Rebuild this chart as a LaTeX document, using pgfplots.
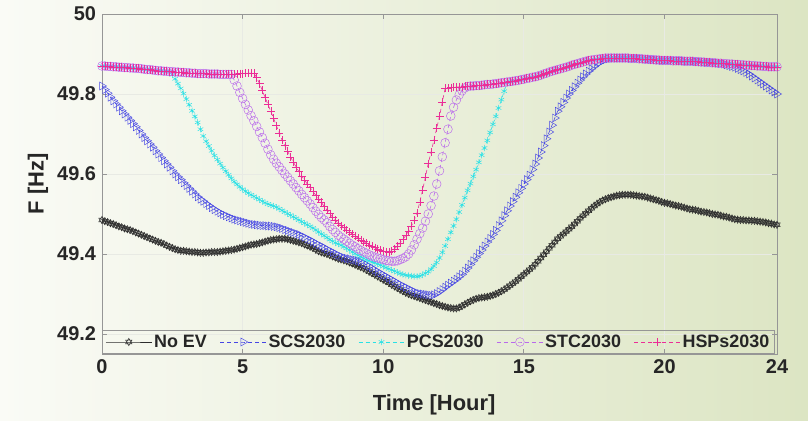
\documentclass[border=0pt]{standalone}
\usepackage{pgfplots}
\usepackage{pgfplotstable}
\pgfplotsset{compat=1.18}
\usepackage{fontspec}
\setmainfont{Liberation Sans}
\definecolor{noev}{RGB}{45,45,45}
\definecolor{scs}{RGB}{70,70,228}
\definecolor{pcs}{RGB}{40,225,230}
\definecolor{stc}{RGB}{185,105,235}
\definecolor{hsp}{RGB}{235,45,150}
\definecolor{txt}{RGB}{38,38,38}
\definecolor{bgL}{RGB}{250,251,246}
\definecolor{bgR}{RGB}{220,229,195}
\definecolor{axisgray}{RGB}{150,150,150}
\definecolor{gridc}{RGB}{232,234,228}
\pgfdeclareplotmark{hexagram}{%
 \pgfpathmoveto{\pgfqpoint{0pt}{\pgfplotmarksize}}%
 \pgfpathlineto{\pgfqpoint{-0.866\pgfplotmarksize}{-0.5\pgfplotmarksize}}%
 \pgfpathlineto{\pgfqpoint{0.866\pgfplotmarksize}{-0.5\pgfplotmarksize}}%
 \pgfpathclose
 \pgfpathmoveto{\pgfqpoint{0pt}{-\pgfplotmarksize}}%
 \pgfpathlineto{\pgfqpoint{-0.866\pgfplotmarksize}{0.5\pgfplotmarksize}}%
 \pgfpathlineto{\pgfqpoint{0.866\pgfplotmarksize}{0.5\pgfplotmarksize}}%
 \pgfpathclose
 \pgfusepathqstroke}
% frequency every 0.1 h, from 0 h to 24 h
\pgfplotstableread[header=false,row sep=\\]{
49.485\\49.482\\49.480\\49.477\\49.475\\49.472\\49.469\\49.467\\49.464\\49.462\\
49.460\\49.457\\49.454\\49.451\\49.448\\49.445\\49.442\\49.439\\49.436\\49.433\\
49.430\\49.428\\49.425\\49.421\\49.418\\49.415\\49.412\\49.410\\49.408\\49.408\\
49.407\\49.406\\49.405\\49.405\\49.404\\49.403\\49.403\\49.404\\49.404\\49.405\\
49.405\\49.405\\49.406\\49.407\\49.408\\49.409\\49.410\\49.411\\49.413\\49.415\\
49.417\\49.419\\49.421\\49.423\\49.424\\49.425\\49.427\\49.429\\49.431\\49.433\\
49.435\\49.436\\49.437\\49.438\\49.438\\49.438\\49.437\\49.435\\49.433\\49.431\\
49.429\\49.427\\49.424\\49.421\\49.418\\49.415\\49.411\\49.407\\49.404\\49.402\\
49.400\\49.397\\49.394\\49.391\\49.388\\49.386\\49.384\\49.382\\49.379\\49.376\\
49.373\\49.370\\49.367\\49.364\\49.360\\49.356\\49.352\\49.348\\49.344\\49.340\\
49.336\\49.332\\49.328\\49.323\\49.319\\49.315\\49.311\\49.307\\49.303\\49.300\\
49.297\\49.295\\49.292\\49.290\\49.287\\49.285\\49.282\\49.280\\49.277\\49.275\\
49.272\\49.270\\49.268\\49.266\\49.265\\49.264\\49.264\\49.266\\49.270\\49.274\\
49.278\\49.282\\49.285\\49.288\\49.290\\49.291\\49.292\\49.293\\49.295\\49.297\\
49.300\\49.303\\49.307\\49.311\\49.316\\49.321\\49.326\\49.331\\49.337\\49.343\\
49.349\\49.355\\49.361\\49.367\\49.374\\49.382\\49.390\\49.398\\49.406\\49.414\\
49.422\\49.430\\49.438\\49.444\\49.450\\49.456\\49.462\\49.468\\49.475\\49.482\\
49.489\\49.496\\49.502\\49.508\\49.514\\49.520\\49.525\\49.530\\49.534\\49.537\\
49.540\\49.542\\49.544\\49.546\\49.547\\49.548\\49.548\\49.548\\49.548\\49.547\\
49.546\\49.545\\49.544\\49.543\\49.541\\49.539\\49.537\\49.535\\49.533\\49.530\\
49.528\\49.527\\49.525\\49.523\\49.521\\49.520\\49.518\\49.516\\49.514\\49.512\\
49.511\\49.510\\49.508\\49.506\\49.505\\49.504\\49.502\\49.500\\49.499\\49.498\\
49.496\\49.494\\49.493\\49.491\\49.489\\49.487\\49.486\\49.485\\49.485\\49.484\\
49.484\\49.483\\49.483\\49.482\\49.481\\49.480\\49.479\\49.477\\49.476\\49.474\\
49.473\\
}\noev
\pgfplotstableread[header=false,row sep=\\]{
49.820\\49.811\\49.802\\49.792\\49.783\\49.775\\49.767\\49.758\\49.750\\49.742\\
49.734\\49.726\\49.718\\49.709\\49.700\\49.691\\49.683\\49.675\\49.667\\49.658\\
49.650\\49.641\\49.633\\49.625\\49.617\\49.608\\49.600\\49.593\\49.586\\49.578\\
49.571\\49.564\\49.557\\49.550\\49.543\\49.537\\49.532\\49.526\\49.521\\49.516\\
49.511\\49.507\\49.503\\49.499\\49.496\\49.493\\49.490\\49.487\\49.485\\49.483\\
49.481\\49.479\\49.477\\49.475\\49.474\\49.473\\49.472\\49.471\\49.471\\49.470\\
49.470\\49.469\\49.468\\49.466\\49.464\\49.461\\49.459\\49.456\\49.454\\49.451\\
49.449\\49.445\\49.442\\49.438\\49.435\\49.431\\49.427\\49.423\\49.420\\49.416\\
49.412\\49.408\\49.405\\49.401\\49.397\\49.394\\49.391\\49.389\\49.388\\49.386\\
49.385\\49.383\\49.381\\49.377\\49.373\\49.369\\49.365\\49.360\\49.356\\49.352\\
49.348\\49.344\\49.340\\49.336\\49.332\\49.328\\49.324\\49.320\\49.317\\49.313\\
49.310\\49.306\\49.303\\49.301\\49.300\\49.299\\49.298\\49.297\\49.298\\49.301\\
49.306\\49.311\\49.317\\49.322\\49.327\\49.332\\49.337\\49.343\\49.349\\49.357\\
49.365\\49.374\\49.383\\49.392\\49.401\\49.410\\49.420\\49.430\\49.439\\49.449\\
49.459\\49.471\\49.483\\49.496\\49.508\\49.520\\49.531\\49.542\\49.553\\49.564\\
49.575\\49.586\\49.597\\49.611\\49.625\\49.640\\49.655\\49.671\\49.688\\49.705\\
49.722\\49.740\\49.757\\49.768\\49.779\\49.790\\49.800\\49.809\\49.818\\49.827\\
49.835\\49.843\\49.850\\49.857\\49.863\\49.869\\49.875\\49.879\\49.883\\49.886\\
49.888\\49.889\\49.890\\49.890\\49.890\\49.890\\49.890\\49.890\\49.889\\49.889\\
49.889\\49.888\\49.888\\49.887\\49.887\\49.886\\49.886\\49.885\\49.885\\49.884\\
49.884\\49.884\\49.884\\49.883\\49.883\\49.883\\49.883\\49.882\\49.882\\49.882\\
49.882\\49.881\\49.881\\49.880\\49.880\\49.879\\49.879\\49.878\\49.878\\49.877\\
49.876\\49.875\\49.873\\49.871\\49.869\\49.867\\49.864\\49.861\\49.858\\49.854\\
49.850\\49.845\\49.840\\49.835\\49.830\\49.825\\49.820\\49.815\\49.810\\49.805\\
49.800\\
}\scs
\pgfplotstableread[header=false,row sep=\\]{
49.870\\49.870\\49.869\\49.869\\49.868\\49.868\\49.867\\49.867\\49.866\\49.866\\
49.865\\49.865\\49.864\\49.864\\49.863\\49.862\\49.861\\49.861\\49.860\\49.859\\
49.858\\49.858\\49.857\\49.857\\49.856\\49.848\\49.838\\49.826\\49.814\\49.801\\
49.787\\49.773\\49.758\\49.744\\49.729\\49.712\\49.695\\49.682\\49.670\\49.658\\
49.646\\49.636\\49.626\\49.616\\49.607\\49.598\\49.589\\49.581\\49.574\\49.568\\
49.562\\49.557\\49.552\\49.548\\49.544\\49.540\\49.536\\49.532\\49.528\\49.525\\
49.522\\49.520\\49.517\\49.513\\49.509\\49.505\\49.501\\49.497\\49.493\\49.489\\
49.485\\49.481\\49.477\\49.473\\49.469\\49.465\\49.460\\49.455\\49.450\\49.446\\
49.441\\49.436\\49.432\\49.428\\49.425\\49.422\\49.418\\49.414\\49.410\\49.405\\
49.401\\49.397\\49.393\\49.389\\49.386\\49.383\\49.380\\49.378\\49.375\\49.372\\
49.369\\49.366\\49.363\\49.360\\49.357\\49.354\\49.351\\49.349\\49.347\\49.346\\
49.345\\49.344\\49.344\\49.345\\49.348\\49.352\\49.356\\49.362\\49.370\\49.379\\
49.390\\49.404\\49.420\\49.437\\49.454\\49.470\\49.487\\49.505\\49.523\\49.541\\
49.559\\49.576\\49.594\\49.611\\49.629\\49.647\\49.665\\49.684\\49.704\\49.724\\
49.744\\49.765\\49.786\\49.807\\49.828\\49.831\\49.832\\49.833\\49.834\\49.836\\
49.837\\49.839\\49.840\\49.842\\49.843\\49.845\\49.847\\49.850\\49.852\\49.855\\
49.857\\49.859\\49.861\\49.863\\49.865\\49.867\\49.869\\49.872\\49.874\\49.876\\
49.878\\49.880\\49.882\\49.884\\49.885\\49.886\\49.887\\49.888\\49.889\\49.890\\
49.890\\49.890\\49.890\\49.890\\49.890\\49.890\\49.890\\49.890\\49.889\\49.889\\
49.889\\49.888\\49.888\\49.887\\49.887\\49.886\\49.886\\49.885\\49.885\\49.884\\
49.884\\49.884\\49.884\\49.883\\49.883\\49.883\\49.883\\49.882\\49.882\\49.882\\
49.882\\49.881\\49.881\\49.880\\49.880\\49.879\\49.879\\49.878\\49.878\\49.877\\
49.877\\49.876\\49.876\\49.875\\49.875\\49.874\\49.874\\49.873\\49.873\\49.872\\
49.872\\49.871\\49.871\\49.870\\49.870\\49.869\\49.869\\49.868\\49.868\\49.868\\
49.868\\
}\pcs
\pgfplotstableread[header=false,row sep=\\]{
49.870\\49.870\\49.869\\49.869\\49.868\\49.868\\49.867\\49.867\\49.866\\49.866\\
49.865\\49.865\\49.864\\49.864\\49.863\\49.862\\49.861\\49.861\\49.860\\49.859\\
49.858\\49.858\\49.857\\49.857\\49.856\\49.856\\49.855\\49.855\\49.854\\49.854\\
49.853\\49.853\\49.852\\49.852\\49.851\\49.851\\49.851\\49.851\\49.850\\49.850\\
49.850\\49.850\\49.849\\49.849\\49.849\\49.849\\49.849\\49.835\\49.820\\49.804\\
49.789\\49.774\\49.760\\49.746\\49.733\\49.719\\49.705\\49.691\\49.677\\49.662\\
49.648\\49.637\\49.627\\49.618\\49.609\\49.600\\49.592\\49.583\\49.575\\49.566\\
49.558\\49.549\\49.541\\49.533\\49.525\\49.516\\49.507\\49.499\\49.491\\49.485\\
49.478\\49.469\\49.461\\49.454\\49.447\\49.442\\49.437\\49.432\\49.427\\49.422\\
49.418\\49.413\\49.409\\49.405\\49.402\\49.398\\49.395\\49.392\\49.390\\49.388\\
49.386\\49.384\\49.383\\49.382\\49.382\\49.383\\49.386\\49.389\\49.393\\49.400\\
49.410\\49.423\\49.437\\49.451\\49.465\\49.482\\49.500\\49.521\\49.545\\49.575\\
49.608\\49.643\\49.678\\49.712\\49.745\\49.767\\49.785\\49.798\\49.808\\49.815\\
49.819\\49.820\\49.820\\49.821\\49.821\\49.822\\49.823\\49.824\\49.824\\49.825\\
49.826\\49.827\\49.828\\49.829\\49.830\\49.831\\49.832\\49.833\\49.834\\49.836\\
49.837\\49.839\\49.840\\49.842\\49.843\\49.845\\49.847\\49.850\\49.852\\49.855\\
49.857\\49.859\\49.861\\49.863\\49.865\\49.867\\49.869\\49.872\\49.874\\49.876\\
49.878\\49.880\\49.882\\49.884\\49.885\\49.886\\49.887\\49.888\\49.889\\49.890\\
49.890\\49.890\\49.890\\49.890\\49.890\\49.890\\49.890\\49.890\\49.889\\49.889\\
49.889\\49.888\\49.888\\49.887\\49.887\\49.886\\49.886\\49.885\\49.885\\49.884\\
49.884\\49.884\\49.884\\49.883\\49.883\\49.883\\49.883\\49.882\\49.882\\49.882\\
49.882\\49.881\\49.881\\49.880\\49.880\\49.879\\49.879\\49.878\\49.878\\49.877\\
49.877\\49.876\\49.876\\49.875\\49.875\\49.874\\49.874\\49.873\\49.873\\49.872\\
49.872\\49.871\\49.871\\49.870\\49.870\\49.869\\49.869\\49.868\\49.868\\49.868\\
49.868\\
}\stc
\pgfplotstableread[header=false,row sep=\\]{
49.870\\49.870\\49.869\\49.869\\49.868\\49.868\\49.867\\49.867\\49.866\\49.866\\
49.865\\49.865\\49.864\\49.864\\49.863\\49.862\\49.861\\49.861\\49.860\\49.859\\
49.858\\49.858\\49.857\\49.857\\49.856\\49.856\\49.855\\49.855\\49.854\\49.854\\
49.853\\49.853\\49.852\\49.852\\49.851\\49.851\\49.851\\49.851\\49.850\\49.850\\
49.850\\49.850\\49.849\\49.849\\49.849\\49.849\\49.849\\49.850\\49.850\\49.851\\
49.851\\49.852\\49.852\\49.852\\49.852\\49.841\\49.826\\49.809\\49.791\\49.774\\
49.757\\49.739\\49.721\\49.703\\49.685\\49.671\\49.657\\49.643\\49.630\\49.618\\
49.606\\49.595\\49.585\\49.575\\49.566\\49.556\\49.547\\49.538\\49.529\\49.519\\
49.510\\49.501\\49.492\\49.484\\49.477\\49.471\\49.466\\49.460\\49.455\\49.450\\
49.445\\49.440\\49.435\\49.431\\49.427\\49.423\\49.420\\49.416\\49.413\\49.410\\
49.407\\49.406\\49.405\\49.408\\49.413\\49.420\\49.428\\49.437\\49.446\\49.457\\
49.470\\49.485\\49.503\\49.530\\49.560\\49.593\\49.626\\49.655\\49.684\\49.714\\
49.744\\49.780\\49.814\\49.815\\49.816\\49.817\\49.817\\49.818\\49.818\\49.819\\
49.819\\49.820\\49.820\\49.821\\49.821\\49.822\\49.823\\49.824\\49.824\\49.825\\
49.826\\49.827\\49.828\\49.829\\49.830\\49.831\\49.832\\49.833\\49.834\\49.836\\
49.837\\49.839\\49.840\\49.842\\49.843\\49.845\\49.847\\49.850\\49.852\\49.855\\
49.857\\49.859\\49.861\\49.863\\49.865\\49.867\\49.869\\49.872\\49.874\\49.876\\
49.878\\49.880\\49.882\\49.884\\49.885\\49.886\\49.887\\49.888\\49.889\\49.890\\
49.890\\49.890\\49.890\\49.890\\49.890\\49.890\\49.890\\49.890\\49.889\\49.889\\
49.889\\49.888\\49.888\\49.887\\49.887\\49.886\\49.886\\49.885\\49.885\\49.884\\
49.884\\49.884\\49.884\\49.883\\49.883\\49.883\\49.883\\49.882\\49.882\\49.882\\
49.882\\49.881\\49.881\\49.880\\49.880\\49.879\\49.879\\49.878\\49.878\\49.877\\
49.877\\49.876\\49.876\\49.875\\49.875\\49.874\\49.874\\49.873\\49.873\\49.872\\
49.872\\49.871\\49.871\\49.870\\49.870\\49.869\\49.869\\49.868\\49.868\\49.868\\
49.868\\
}\hsp
\begin{document}
\begin{tikzpicture}
\useasboundingbox (0,0) rectangle (808bp,421bp);
\shade[left color=bgL, right color=bgR] (0,0) rectangle (808bp,421bp);
\begin{axis}[
  at={(102bp,67bp)}, anchor=south west,
  scale only axis, width=675bp, height=340bp,
  xmin=0, xmax=24, ymin=49.15, ymax=50,
  clip=false,
  xtick={0,5,10,15,20,24},
  ytick={49.2,49.4,49.6,49.8,50},
  grid=major,
  grid style={draw=gridc, line width=0.8pt},
  axis line style={draw=axisgray, line width=1pt},
  tick style={draw=axisgray, line width=0.8pt},
  major tick length=5bp,
  tick align=inside,
  /pgf/number format/assume math mode=true,
  ticklabel style={font=\bfseries\fontsize{20}{20}\selectfont, text=txt},
  xticklabel style={yshift=-2bp},
  yticklabel style={xshift=-2.5bp},
  xlabel={Time [Hour]},
  ylabel={F [Hz]},
  label style={font=\bfseries\fontsize{22}{22}\selectfont, text=txt},
  xlabel style={at={(axis description cs:0.492,-0.15)}, anchor=center},
  ylabel style={at={(axis description cs:-0.0948,0.5)}, anchor=center},
  legend columns=5,
  legend style={at={(axis description cs:0,0)}, anchor=south west,
    draw=axisgray, line width=1pt, fill=none,
    font=\bfseries\fontsize{18}{20}\selectfont, text=txt,
    inner xsep=3bp, inner ysep=1.5bp,
    nodes={inner xsep=2bp, inner ysep=3bp}},
  legend image code/.code={\draw[mark repeat=2,mark phase=2] plot coordinates {(0bp,0bp) (23bp,0bp) (46bp,0bp)};},
]
\addplot[color=noev, line width=0.6pt, mark=hexagram, mark size=3.7bp, mark options={solid, line width=0.45pt}] table[x expr=\coordindex/10, y index=0] {\noev};
\addlegendentry{No EV\rule{11bp}{0pt}}
\addplot[color=scs, line width=0.6pt, dash pattern=on 4pt off 3pt, mark=triangle, mark size=4.6bp, mark options={solid, rotate=-90, line width=0.45pt}] table[x expr=\coordindex/10, y index=0] {\scs};
\addlegendentry{SCS2030\rule{11bp}{0pt}}
\addplot[color=pcs, line width=0.6pt, dash pattern=on 4pt off 3pt, mark=asterisk, mark size=3.2bp, mark options={solid, line width=0.5pt}] table[x expr=\coordindex/10, y index=0] {\pcs};
\addlegendentry{PCS2030\rule{11bp}{0pt}}
\addplot[color=stc, line width=0.6pt, dash pattern=on 4pt off 3pt, mark=o, mark size=4.4bp, mark options={solid, line width=0.45pt}] table[x expr=\coordindex/10, y index=0] {\stc};
\addlegendentry{STC2030\rule{11bp}{0pt}}
\addplot[color=hsp, line width=0.6pt, dash pattern=on 4pt off 3pt, mark=+, mark size=4bp, mark options={solid, line width=0.45pt}] table[x expr=\coordindex/10, y index=0] {\hsp};
\addlegendentry{HSPs2030}
\end{axis}
\end{tikzpicture}
\end{document}
